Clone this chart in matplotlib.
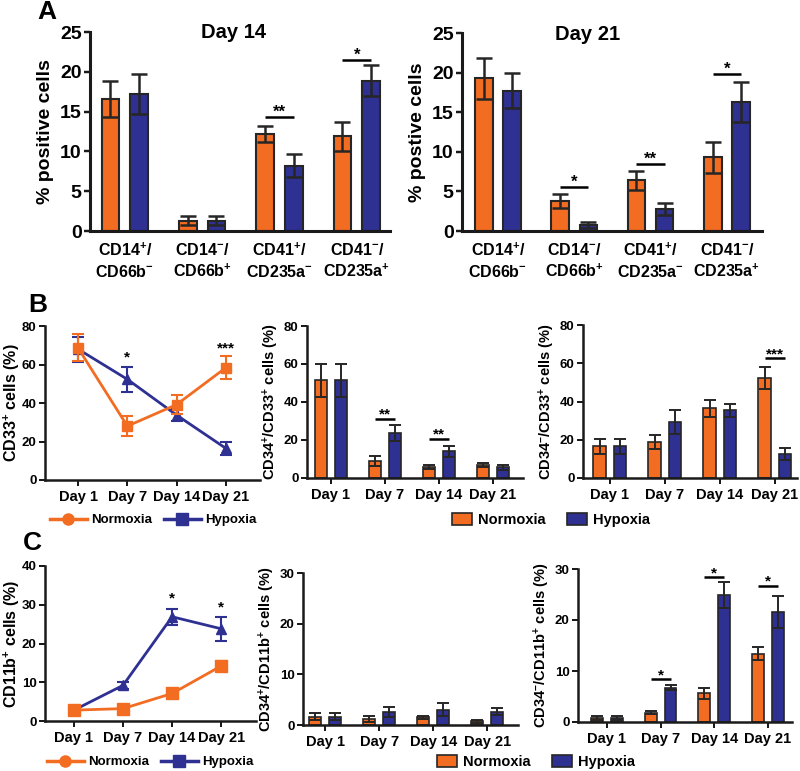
import matplotlib
matplotlib.use('Agg')
import matplotlib.pyplot as plt
import numpy as np
from matplotlib.lines import Line2D
from matplotlib.patches import Patch

plt.rcParams['font.family'] = ['Liberation Sans', 'DejaVu Sans']
plt.rcParams['font.weight'] = 'bold'
plt.rcParams['axes.labelweight'] = 'bold'
plt.rcParams['mathtext.fontset'] = 'custom'
plt.rcParams['mathtext.bf'] = 'Liberation Sans:bold'
plt.rcParams['mathtext.rm'] = 'Liberation Sans:bold'
plt.rcParams['mathtext.it'] = 'Liberation Sans:bold'
plt.rcParams['mathtext.default'] = 'bf'

ORANGE = '#F26C22'
BLUE = '#2E3192'
EDGE = '#262626'

# ---------------- data ----------------
a_cats = ['CD14$^{+}$/\nCD66b$^{-}$', 'CD14$^{-}$/\nCD66b$^{+}$',
          'CD41$^{+}$/\nCD235a$^{-}$', 'CD41$^{-}$/\nCD235a$^{+}$']
a14_norm = [16.6, 1.3, 12.2, 11.9]
a14_norm_err = [2.25, 0.6, 1.05, 1.8]
a14_hyp = [17.2, 1.3, 8.2, 18.9]
a14_hyp_err = [2.55, 0.55, 1.45, 1.9]
a14_sig = [(2, 14.3, '**'), (3, 21.5, '*')]

a21_norm = [19.3, 3.8, 6.4, 9.3]
a21_norm_err = [2.6, 0.85, 1.2, 2.0]
a21_hyp = [17.7, 0.75, 2.75, 16.3]
a21_hyp_err = [2.2, 0.35, 0.75, 2.55]
a21_sig = [(1, 5.6, '*'), (2, 8.5, '**'), (3, 19.85, '*')]

days = ['Day 1', 'Day 7', 'Day 14', 'Day 21']

b_cd33_norm = [68.6, 28.0, 39.2, 58.4]
b_cd33_norm_err = [7.0, 5.2, 4.9, 6.1]
b_cd33_hyp = [68.0, 52.3, 33.7, 16.4]
b_cd33_hyp_err = [6.5, 6.4, 3.2, 3.3]
b_cd33_stars = [(1, 61.5, '*'), (3, 66.5, '***')]

b_pos_norm = [51.5, 9.1, 5.8, 7.0]
b_pos_norm_err = [8.7, 2.6, 0.9, 1.0]
b_pos_hyp = [51.5, 23.6, 14.0, 5.6]
b_pos_hyp_err = [8.7, 4.1, 3.0, 1.4]
b_pos_sig = [(1, 31.2, '**'), (2, 20.7, '**')]

b_neg_norm = [16.6, 18.9, 36.5, 52.4]
b_neg_norm_err = [4.0, 3.6, 4.4, 5.9]
b_neg_hyp = [16.6, 29.2, 35.3, 12.6]
b_neg_hyp_err = [4.0, 6.3, 3.5, 3.0]
b_neg_sig = [(3, 62.5, '***')]

c_cd11_norm = [2.8, 3.2, 7.1, 14.2]
c_cd11_norm_err = [0.5, 0.5, 0.6, 1.3]
c_cd11_hyp = [2.8, 9.2, 26.9, 23.8]
c_cd11_hyp_err = [0.4, 0.9, 2.0, 3.1]
c_cd11_stars = [(2, 30.5, '*'), (3, 28.3, '*')]

c_pos_norm = [1.6, 1.1, 1.5, 0.7]
c_pos_norm_err = [0.7, 0.6, 0.3, 0.3]
c_pos_hyp = [1.6, 2.6, 3.0, 2.6]
c_pos_hyp_err = [0.7, 1.0, 1.3, 0.7]

c_neg_norm = [0.8, 1.8, 5.6, 13.4]
c_neg_norm_err = [0.4, 0.3, 1.1, 1.25]
c_neg_hyp = [0.8, 6.7, 24.9, 21.6]
c_neg_hyp_err = [0.4, 0.5, 2.5, 3.2]
c_neg_sig = [(1, 8.4, '*'), (2, 28.4, '*'), (3, 26.7, '*')]

# ---------------- figure ----------------
W, H = 800, 771
fig = plt.figure(figsize=(W / 100, H / 100), dpi=100)


def add_ax(l, t, r, b):
    return fig.add_axes([l / W, 1 - b / H, (r - l) / W, (b - t) / H])


def style(ax, lw, ytick_fs, xtick_fs):
    for s in ['top', 'right']:
        ax.spines[s].set_visible(False)
    for s in ['left', 'bottom']:
        ax.spines[s].set_linewidth(lw)
        ax.spines[s].set_color('#1a1a1a')
    ax.tick_params(direction='out', length=4, width=lw * 0.8, color='#1a1a1a')
    ax.tick_params(axis='y', labelsize=ytick_fs, pad=2)
    ax.tick_params(axis='x', labelsize=xtick_fs)


def bar_panel(ax, norm, nerr, hyp, herr, sig, width, off, elw, cap, edge_lw,
              star_fs):
    x = np.arange(len(norm))
    ax.bar(x - off, norm, width, color=ORANGE, edgecolor=EDGE, linewidth=edge_lw, zorder=2)
    ax.bar(x + off, hyp, width, color=BLUE, edgecolor=EDGE, linewidth=edge_lw, zorder=2)
    ax.errorbar(x - off, norm, yerr=nerr, fmt='none', ecolor=EDGE, elinewidth=elw,
                capsize=cap, capthick=elw, zorder=3)
    ax.errorbar(x + off, hyp, yerr=herr, fmt='none', ecolor=EDGE, elinewidth=elw,
                capsize=cap, capthick=elw, zorder=3)
    for (i, yv, s) in sig:
        ax.plot([i - off, i + off], [yv, yv], color='black', lw=1.8, solid_capstyle='butt')
        ax.text(i, yv, s, ha='center', va='baseline', fontsize=star_fs, fontweight='bold')
    ax.set_xticks(x)


def line_panel(ax, norm, nerr, hyp, herr, stars, ms_sq, ms_tri):
    x = np.arange(len(norm))
    ax.errorbar(x, hyp, yerr=herr, color=BLUE, marker='^', ms=ms_tri, lw=2,
                elinewidth=1.5, capsize=4, capthick=1.5, zorder=3, clip_on=False)
    ax.errorbar(x, norm, yerr=nerr, color=ORANGE, marker='s', ms=ms_sq, lw=2,
                elinewidth=1.5, capsize=4, capthick=1.5, zorder=4, clip_on=False)
    for (i, yv, s) in stars:
        ax.text(i, yv, s, ha='center', va='baseline', fontsize=11, fontweight='bold')
    ax.set_xticks(x)
    ax.set_xticklabels(days)


# ---- Panel A ----
axA1 = add_ax(90, 32, 390, 231)
bar_panel(axA1, a14_norm, a14_norm_err, a14_hyp, a14_hyp_err, a14_sig,
          0.23, 0.185, 1.8, 6, 1.5, 12)
axA1.set_xlim(-0.45, 3.43)
axA1.set_ylim(0, 25)
axA1.set_yticks([0, 5, 10, 15, 20, 25])
axA1.set_xticklabels(a_cats, linespacing=1.35)
style(axA1, 2.2, 14, 11.5)
axA1.tick_params(axis='x', length=0, pad=8)
axA1.set_ylabel('% positive cells', fontsize=14)
axA1.text(0.477, 0.995, 'Day 14', transform=axA1.transAxes, ha='center', va='center',
          fontsize=14.5, fontweight='bold')

axA2 = add_ax(462, 33, 762, 231)
bar_panel(axA2, a21_norm, a21_norm_err, a21_hyp, a21_hyp_err, a21_sig,
          0.23, 0.185, 1.8, 6, 1.5, 12)
axA2.set_xlim(-0.47, 3.46)
axA2.set_ylim(0, 25)
axA2.set_yticks([0, 5, 10, 15, 20, 25])
axA2.set_xticklabels(a_cats, linespacing=1.35)
style(axA2, 2.2, 14, 11.5)
axA2.tick_params(axis='x', length=0, pad=8)
axA2.set_ylabel('% postive cells', fontsize=14)
axA2.text(0.417, 0.99, 'Day 21', transform=axA2.transAxes, ha='center', va='center',
          fontsize=14.5, fontweight='bold')

# ---- Panel B ----
axB1 = add_ax(45, 326, 260, 480)
line_panel(axB1, b_cd33_norm, b_cd33_norm_err, b_cd33_hyp, b_cd33_hyp_err,
           b_cd33_stars, 7.5, 7)
axB1.set_xlim(-0.67, 3.69)
axB1.set_ylim(0, 80)
axB1.set_yticks([0, 20, 40, 60, 80])
style(axB1, 1.8, 9.5, 10.5)
axB1.set_ylabel('CD33$^{+}$ cells (%)', fontsize=11.5)
axB1.yaxis.set_label_coords(-0.105, 0.5)

axB2 = add_ax(307, 326, 523, 478)
bar_panel(axB2, b_pos_norm, b_pos_norm_err, b_pos_hyp, b_pos_hyp_err, b_pos_sig,
          0.22, 0.185, 1.4, 4.5, 1.2, 11)
axB2.set_xticklabels(days)
axB2.set_xlim(-0.44, 3.56)
axB2.set_ylim(0, 80)
axB2.set_yticks([0, 20, 40, 60, 80])
style(axB2, 1.8, 9.5, 10.5)
axB2.set_ylabel('CD34$^{+}$/CD33$^{+}$ cells (%)', fontsize=10.5, labelpad=2)

axB3 = add_ax(583, 325, 797, 478)
bar_panel(axB3, b_neg_norm, b_neg_norm_err, b_neg_hyp, b_neg_hyp_err, b_neg_sig,
          0.23, 0.185, 1.4, 4.5, 1.2, 11)
axB3.set_xticklabels(days)
axB3.set_xlim(-0.49, 3.4)
axB3.set_ylim(0, 80)
axB3.set_yticks([0, 20, 40, 60, 80])
style(axB3, 1.8, 9.5, 10.5)
axB3.set_ylabel('CD34$^{-}$/CD33$^{+}$ cells (%)', fontsize=10.5, labelpad=2)

# ---- Panel C ----
axC1 = add_ax(45, 566, 256, 721)
line_panel(axC1, c_cd11_norm, c_cd11_norm_err, c_cd11_hyp, c_cd11_hyp_err,
           c_cd11_stars, 9, 7)
axC1.set_xlim(-0.59, 3.71)
axC1.set_ylim(0, 40)
axC1.set_yticks([0, 10, 20, 30, 40])
style(axC1, 1.8, 9.5, 10.5)
axC1.set_ylabel('CD11b$^{+}$ cells (%)', fontsize=11.5)
axC1.yaxis.set_label_coords(-0.107, 0.5)

axC2 = add_ax(303, 573, 518, 725)
bar_panel(axC2, c_pos_norm, c_pos_norm_err, c_pos_hyp, c_pos_hyp_err, [],
          0.22, 0.185, 1.4, 4.5, 1.2, 11)
axC2.set_xticklabels(days)
axC2.set_xlim(-0.41, 3.57)
axC2.set_ylim(0, 30)
axC2.set_yticks([0, 10, 20, 30])
style(axC2, 1.8, 9.5, 10.5)
axC2.set_ylabel('CD34$^{+}$/CD11b$^{+}$ cells (%)', fontsize=10.5, labelpad=2)

axC3 = add_ax(578, 569, 792, 722)
bar_panel(axC3, c_neg_norm, c_neg_norm_err, c_neg_hyp, c_neg_hyp_err, c_neg_sig,
          0.22, 0.185, 1.4, 4.5, 1.2, 11)
axC3.set_xticklabels(days)
axC3.set_xlim(-0.54, 3.45)
axC3.set_ylim(0, 30)
axC3.set_yticks([0, 10, 20, 30])
style(axC3, 1.8, 9.5, 10.5)
axC3.set_ylabel('CD34$^{-}$/CD11b$^{+}$ cells (%)', fontsize=10.5, labelpad=2)

# ---- legends ----
line_handles = [Line2D([], [], color=ORANGE, marker='o', ms=8, lw=2.5),
                Line2D([], [], color=BLUE, marker='s', ms=8, lw=2.5)]
bar_handles = [Patch(facecolor=ORANGE, edgecolor=EDGE, linewidth=1.2),
               Patch(facecolor=BLUE, edgecolor=EDGE, linewidth=1.2)]
labels = ['Normoxia', 'Hypoxia']

for (cx, cy) in [(153, 520), (150, 762)]:
    fig.legend(line_handles, labels, loc='center', bbox_to_anchor=(cx / W, 1 - cy / H),
               ncol=2, frameon=False, fontsize=9.5, handlelength=2.8, columnspacing=0.9,
               handletextpad=0.3, borderpad=0)
for (cx, cy) in [(551, 520), (536, 762)]:
    fig.legend(bar_handles, labels, loc='center', bbox_to_anchor=(cx / W, 1 - cy / H),
               ncol=2, frameon=False, fontsize=10.5, handlelength=1.4, handleheight=0.8,
               columnspacing=1.4, handletextpad=0.45, borderpad=0)

# ---- panel letters ----
for (px, py, s) in [(37, 12, 'A'), (28, 305, 'B'), (23, 543, 'C')]:
    fig.text(px / W, 1 - py / H, s, fontsize=19, fontweight='bold', va='center', ha='left')

fig.savefig('out.png', dpi=100)
